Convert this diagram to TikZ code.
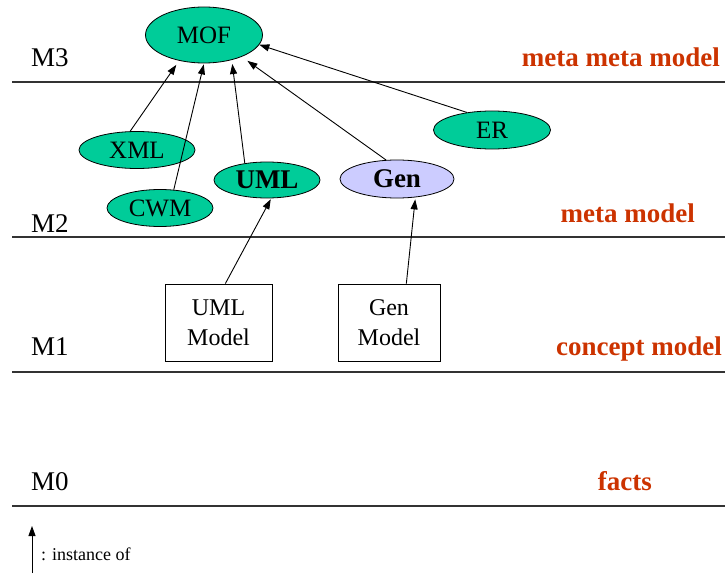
\documentclass[tikz,border=0pt]{standalone}
\usepackage{fontspec}
\setmainfont{Liberation Serif}
\usetikzlibrary{shapes.geometric,arrows.meta}

\definecolor{metagreen}{RGB}{0,204,153}
\definecolor{genblue}{RGB}{204,204,255}
\definecolor{levelred}{RGB}{204,51,0}

\begin{document}
\begin{tikzpicture}[x=1pt,y=-1pt,
  level/.style={draw=black!80,line width=1.6pt},
  lvlname/.style={anchor=base west,inner sep=0pt,font=\fontsize{27}{29}\selectfont},
  lvldesc/.style={anchor=base east,inner sep=0pt,text=levelred,font=\fontsize{27}{30}\selectfont\bfseries},
  metanode/.style={ellipse,draw=black,line width=0.8pt,fill=metagreen,inner sep=0pt,
    font=\fontsize{25}{27}\selectfont},
  modelbox/.style={rectangle,draw=black,line width=0.9pt,fill=white,inner sep=0pt,
    minimum height=77pt,align=center,font=\fontsize{24}{30}\selectfont},
  inst/.style={draw=black,line width=0.9pt,-{Triangle[length=10pt,width=7pt]}}
]
\useasboundingbox (0,0) rectangle (725,575);

% level separators
\draw[level] (12,82) -- (725,82);
\draw[level] (12,237) -- (725,237);
\draw[level] (12,372) -- (725,372);
\draw[level] (12,506) -- (725,506);

% level names
\node[lvlname] (m3) at (31,67) {M3};
\node[lvlname] (m2) at (31,232) {M2};
\node[lvlname] (m1) at (31,355) {M1};
\node[lvlname] (m0) at (31,490) {M0};

\node[lvldesc] (d3) at (720,67) {meta meta model};
\node[lvldesc] (d2) at (695,222) {meta model};
\node[lvldesc] (d1) at (722,355) {concept model};
\node[lvldesc] (d0) at (652,490) {facts};

% meta models
\node[metanode,minimum width=117pt,minimum height=56pt] (mof) at (204,35) {MOF};
\node[metanode,minimum width=116pt,minimum height=37pt] (xml) at (137,150) {XML};
\node[metanode,minimum width=106pt,minimum height=37pt] (cwm) at (160,208) {CWM};
\node[metanode,minimum width=106pt,minimum height=36pt,font=\fontsize{27}{29}\selectfont\bfseries] (uml) at (267,180) {UML};
\node[metanode,fill=genblue,minimum width=114pt,minimum height=38pt,font=\fontsize{27}{29}\selectfont\bfseries] (gen) at (397,179) {Gen};
\node[metanode,minimum width=117pt,minimum height=38pt] (er) at (492,130) {ER};

% concept models
\node[modelbox,minimum width=107pt] (umlbox) at (218.5,322.5) {UML\\Model};
\node[modelbox,minimum width=102pt] (genbox) at (389,322.5) {Gen\\Model};

% instance-of relations
\draw[inst,shorten >=5pt] (xml.110) -- (mof.226);
\draw[inst,shorten >=1pt] (cwm.53) -- (mof.270);
\draw[inst,shorten >=4pt] (uml.143) -- (mof.318);
\draw[inst,shorten >=7pt] (gen.120) -- (mof.330);
\draw[inst,shorten >=0pt] (er.145) -- (mof.350);
\draw[inst,shorten >=1pt] (umlbox.80) -- (uml.283);
\draw[inst,shorten >=2pt] (genbox.66) -- (gen.315);

% legend
\coordinate (lgbot) at (32,573);
\coordinate (lgtop) at (32,526);
\draw[inst] (lgbot) -- (lgtop);
\node[anchor=base west,inner sep=0pt,font=\fontsize{18}{20}\selectfont] (lgtext) at (41,560) {: instance of};
\end{tikzpicture}
\end{document}
